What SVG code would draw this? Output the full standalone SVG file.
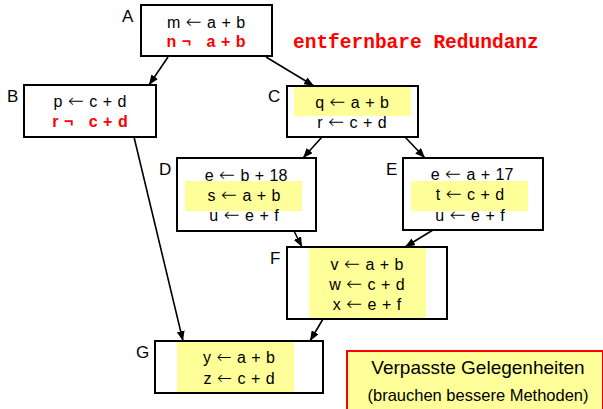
<svg xmlns="http://www.w3.org/2000/svg" width="603" height="409" viewBox="0 0 603 409">
<defs>
<style>
.box{fill:none;stroke:#000;stroke-width:2}
.hl{fill:#FFFF99}
.t{font-family:"Liberation Sans",Arial,sans-serif;font-size:16px;fill:#000;text-anchor:middle;word-spacing:1px}
.ar{font-family:"DejaVu Sans",sans-serif;font-size:19px;font-weight:200}
.ar2{font-family:"DejaVu Sans",sans-serif;font-size:18px;font-weight:200}
.r{font-family:"Liberation Sans",Arial,sans-serif;font-size:16px;font-weight:bold;fill:#FF0000;text-anchor:middle;word-spacing:1px}
.lbl{font-family:"Liberation Sans",Arial,sans-serif;font-size:17px;fill:#000}
.edge{stroke:#000;stroke-width:1.6;fill:none;marker-end:url(#ah)}
</style>
<marker id="ah" markerUnits="userSpaceOnUse" markerWidth="10" markerHeight="8" refX="10" refY="4" orient="auto">
<path d="M0,0 L10,4 L0,8 z" fill="#000"/>
</marker>
</defs>
<rect width="603" height="409" fill="#fff"/>

<g id="connectors">
<line class="edge" x1="168" y1="57" x2="149" y2="85"/>
<line class="edge" x1="266" y1="57" x2="314" y2="86"/>
<line class="edge" x1="134" y1="137" x2="183" y2="341"/>
<line class="edge" x1="322" y1="137" x2="303" y2="158"/>
<line class="edge" x1="405" y1="137" x2="425" y2="158"/>
<line class="edge" x1="294" y1="231" x2="302" y2="247"/>
<line class="edge" x1="433" y1="230" x2="405" y2="247"/>
<line class="edge" x1="323" y1="319" x2="310" y2="341"/>
</g>

<g id="A">
<rect class="box" x="141" y="5" width="131" height="51"/>
<text class="lbl" x="122" y="22">A</text>
<text class="t" x="206" y="28">m <tspan class="ar">←</tspan> a + b</text>
<text class="r" x="206" y="47">n ¬<tspan dx="10"> a + b</tspan></text>
</g>

<g id="B">
<rect class="box" x="24" y="85" width="132" height="52"/>
<text class="lbl" x="7" y="102">B</text>
<text class="t" x="90" y="107">p <tspan class="ar">←</tspan> c + d</text>
<text class="r" x="90" y="127">r ¬<tspan dx="10"> c + d</tspan></text>
</g>

<g id="C">
<rect class="hl" x="294" y="87" width="117" height="29"/>
<rect class="box" x="287" y="86" width="131" height="51"/>
<text class="lbl" x="268" y="102">C</text>
<text class="t" x="352" y="108">q <tspan class="ar">←</tspan> a + b</text>
<text class="t" x="352" y="128">r <tspan class="ar">←</tspan> c + d</text>
</g>

<g id="D">
<rect class="hl" x="185" y="181" width="117" height="30"/>
<rect class="box" x="177" y="158" width="139" height="73"/>
<text class="lbl" x="159" y="175">D</text>
<text class="t" x="246" y="181">e <tspan class="ar">←</tspan> b + 18</text>
<text class="t" x="244" y="201">s <tspan class="ar">←</tspan> a + b</text>
<text class="t" x="244" y="221">u <tspan class="ar">←</tspan> e + f</text>
</g>

<g id="E">
<rect class="hl" x="411" y="181" width="117" height="30"/>
<rect class="box" x="403" y="158" width="140" height="72"/>
<text class="lbl" x="386" y="175">E</text>
<text class="t" x="472" y="180">e <tspan class="ar">←</tspan> a + 17</text>
<text class="t" x="470" y="200">t <tspan class="ar">←</tspan> c + d</text>
<text class="t" x="470" y="221">u <tspan class="ar">←</tspan> e + f</text>
</g>

<g id="F">
<rect class="hl" x="309" y="247" width="117" height="72"/>
<rect class="box" x="287" y="247" width="160" height="72"/>
<text class="lbl" x="270" y="264">F</text>
<text class="t" x="367" y="270">v <tspan class="ar">←</tspan> a + b</text>
<text class="t" x="367" y="290">w <tspan class="ar">←</tspan> c + d</text>
<text class="t" x="367" y="310">x <tspan class="ar">←</tspan> e + f</text>
</g>

<g id="G">
<rect class="hl" x="177" y="341" width="117" height="52"/>
<rect class="box" x="155" y="341" width="168" height="52"/>
<text class="lbl" x="136" y="358">G</text>
<text class="t" x="239" y="363">y <tspan class="ar2">←</tspan> a + b</text>
<text class="t" x="239" y="384">z <tspan class="ar2">←</tspan> c + d</text>
</g>

<g id="note-redundanz">
<text x="293" y="48" style="font-family:'Liberation Mono','Courier New',monospace;font-size:19.5px;font-weight:bold;fill:#FF0000">entfernbare Redundanz</text>
</g>

<g id="note-verpasst">
<rect x="347" y="351" width="256" height="70" fill="#FFFF99" stroke="#FF0000" stroke-width="2"/>
<text x="478" y="374" style="font-family:'Liberation Sans',Arial,sans-serif;font-size:19px;fill:#000;text-anchor:middle">Verpasste Gelegenheiten</text>
<text x="478" y="401" style="font-family:'Liberation Sans',Arial,sans-serif;font-size:16.5px;fill:#000;text-anchor:middle">(brauchen bessere Methoden)</text>
</g>
</svg>
